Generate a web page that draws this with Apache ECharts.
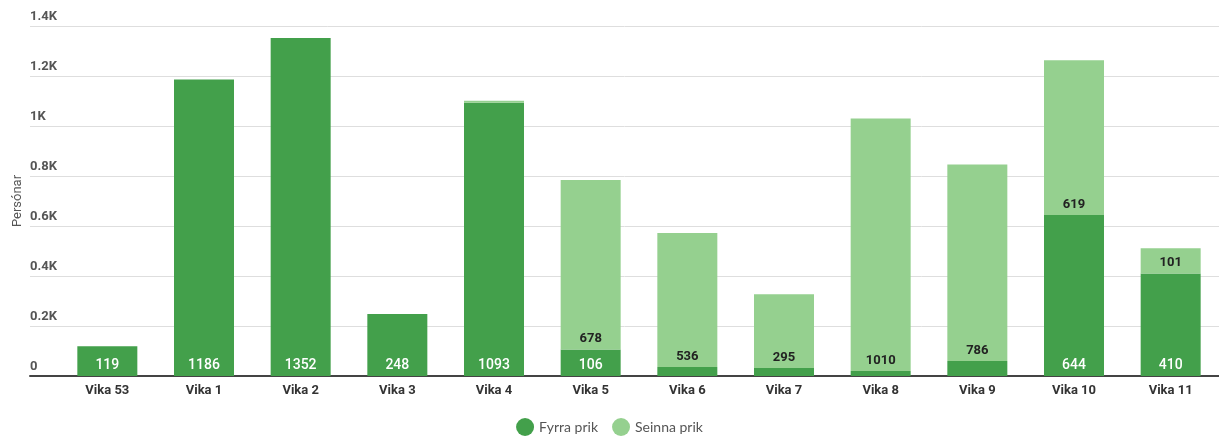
<!DOCTYPE html>
<html>
<head>
<meta charset="utf-8">
<script src="https://cdn.jsdelivr.net/npm/echarts@6/dist/echarts.min.js"></script>
<style>html,body{margin:0;padding:0;background:#fff}#c{width:1219px;height:439px}</style>
</head>
<body>
<div id="c"></div>
<script>
const categories = ['Vika 53','Vika 1','Vika 2','Vika 3','Vika 4','Vika 5','Vika 6','Vika 7','Vika 8','Vika 9','Vika 10','Vika 11'];
const fyrraPrik = [119, 1186, 1352, 248, 1093, 106, 36, 32, 20, 60, 644, 410];
const seinnaPrik = [0, 0, 0, 0, 8, 678, 536, 295, 1010, 786, 619, 101];
const yTicks = [0, 200, 400, 600, 800, 1000, 1200, 1400];

const chart = echarts.init(document.getElementById('c'));
const fmtK = v => v === 0 ? '0' : (v / 1000) + 'K';
chart.setOption({
  animation: false,
  grid: [
    {left: 30, right: 0, top: 26, bottom: 63},
    {left: 59, right: 0, top: 26, bottom: 63}
  ],
  legend: {
    top: 413, left: 'center', icon: 'circle', itemWidth: 18, itemHeight: 18, itemGap: 14,
    textStyle: {fontFamily: 'Lato', fontSize: 14, color: '#555'},
    data: ['Fyrra prik', 'Seinna prik']
  },
  xAxis: [
    {type: 'category', gridIndex: 0, data: categories, axisLine: {show: true, lineStyle: {color: '#444', width: 2}},
     axisTick: {show: false}, axisLabel: {show: false}},
    {type: 'category', gridIndex: 1, data: categories, axisLine: {show: false}, axisTick: {show: false},
     axisLabel: {fontFamily: 'Roboto', fontWeight: 'bold', fontSize: 13, color: '#333', margin: 8}}
  ],
  yAxis: [
    {type: 'value', gridIndex: 0, min: yTicks[0], max: yTicks[yTicks.length - 1], interval: 200,
     name: 'Persónar', nameLocation: 'middle', nameGap: 6, nameRotate: 90, nameMoveOverlap: false,
     nameTextStyle: {fontFamily: 'Roboto', fontSize: 13, color: '#555'},
     axisLine: {show: false}, axisTick: {show: false},
     splitLine: {lineStyle: {color: '#dedede', width: 1}},
     axisLabel: {inside: true, verticalAlign: 'bottom', margin: 0, padding: [0, 0, 3, 0],
       fontFamily: 'Roboto', fontWeight: 'bold', fontSize: 13, color: '#555', formatter: fmtK}},
    {type: 'value', gridIndex: 1, min: yTicks[0], max: yTicks[yTicks.length - 1], interval: 200, show: false,
     splitLine: {show: false}}
  ],
  series: [
    {name: 'Fyrra prik', type: 'bar', stack: 's', xAxisIndex: 1, yAxisIndex: 1, barWidth: 60,
     data: fyrraPrik, itemStyle: {color: '#43a04b'},
     label: {show: true, position: 'insideBottom', distance: 4, color: '#fff', fontFamily: 'Roboto',
       fontWeight: 500, fontSize: 14, formatter: p => p.value >= 100 ? String(p.value) : ''}},
    {name: 'Seinna prik', type: 'bar', stack: 's', xAxisIndex: 1, yAxisIndex: 1, barWidth: 60,
     data: seinnaPrik, itemStyle: {color: '#95d08f'},
     label: {show: true, position: 'insideBottom', distance: 4, color: '#222', fontFamily: 'Roboto',
       fontWeight: 'bold', fontSize: 13, formatter: p => p.value >= 50 ? String(p.value) : ''}}
  ]
});
</script>
</body>
</html>
